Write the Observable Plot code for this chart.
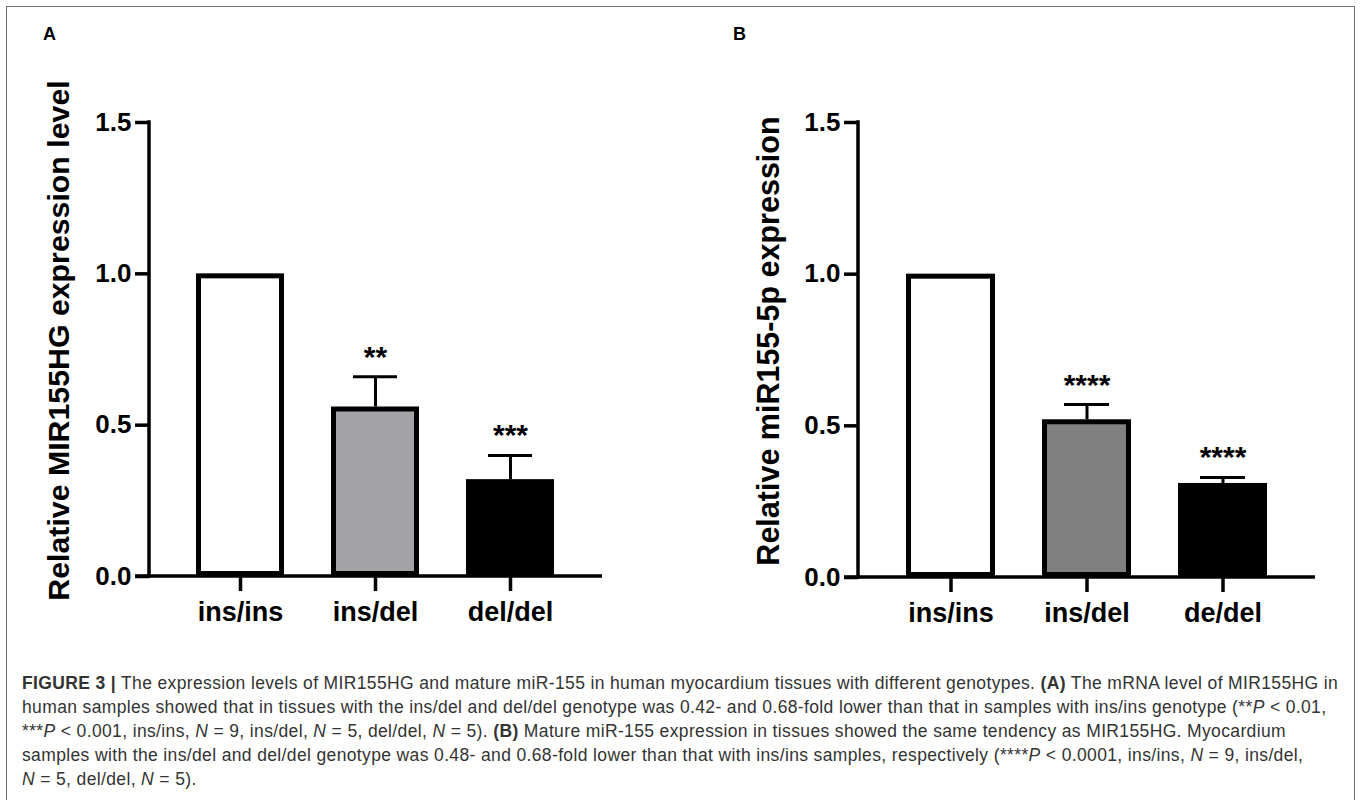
<!DOCTYPE html>
<html><head><meta charset="utf-8">
<script src="https://cdn.jsdelivr.net/npm/d3@7"></script>
<script src="https://cdn.jsdelivr.net/npm/@observablehq/plot@0.6"></script>
<style>
html,body{margin:0;padding:0;background:#fff;}
#page{position:relative;width:1360px;height:800px;overflow:hidden;background:#fff;}
#frame{position:absolute;left:6px;top:6px;width:1349px;height:900px;border:1.5px solid #707070;border-bottom:none;box-sizing:border-box;}
.panel{position:absolute;top:0;}
.plabel{position:absolute;top:23px;font:bold 18px "Liberation Sans",Arial,sans-serif;line-height:22px;color:#000;}
#caption{position:absolute;left:22px;top:671px;font-family:"Liberation Sans",Arial,sans-serif;font-size:17.5px;line-height:24px;color:#333;white-space:nowrap;}
#caption .line{display:table;}
</style></head>
<body>
<div id="page">
  <div id="frame"></div>
  <div class="plabel" style="left:43px">A</div>
  <div class="plabel" style="left:733px">B</div>
  <div id="panelA" class="panel" style="left:0px"></div>
  <div id="panelB" class="panel" style="left:680px"></div>
  <div id="caption">
    <div class="line"><b>FIGURE 3 |</b> The expression levels of MIR155HG and mature miR-155 in human myocardium tissues with different genotypes. <b>(A)</b> The mRNA level of MIR155HG in</div>
    <div class="line">human samples showed that in tissues with the ins/del and del/del genotype was 0.42- and 0.68-fold lower than that in samples with ins/ins genotype (**<i>P</i> &lt; 0.01,</div>
    <div class="line">***<i>P</i> &lt; 0.001, ins/ins, <i>N</i> = 9, ins/del, <i>N</i> = 5, del/del, <i>N</i> = 5). <b>(B)</b> Mature miR-155 expression in tissues showed the same tendency as MIR155HG. Myocardium</div>
    <div class="line">samples with the ins/del and del/del genotype was 0.48- and 0.68-fold lower than that with ins/ins samples, respectively (****<i>P</i> &lt; 0.0001, ins/ins, <i>N</i> = 9, ins/del,</div>
    <div class="line"><i>N</i> = 5, del/del, <i>N</i> = 5).</div>
  </div>
</div>
<script>
// ---- data ----
const genotypesA = ["ins/ins", "ins/del", "del/del"];
const meanA = [1.00, 0.56, 0.32];
const semA = [0, 0.10, 0.08];
const starsA = ["", "**", "***"];

const genotypesB = ["ins/ins", "ins/del", "de/del"];
const meanB = [1.00, 0.52, 0.31];
const semB = [0, 0.05, 0.02];
const starsB = ["", "****", "****"];

const yTicks = [0, 0.5, 1.0, 1.5];
const titleA = "Relative MIR155HG expression level";
const titleB = "Relative miR155-5p expression";

// ---- styles ----
const fillsA = ["#ffffff", "#a3a3a7", "#000000"];
const fillsB = ["#ffffff", "#808080", "#000000"];
const FONT = "'Liberation Sans', Arial, Helvetica, sans-serif";

function panel(o) {
  const rows = o.genotypes.map((g, i) => ({genotype: g, mean: o.means[i], sem: o.sems[i], top: o.means[i] + o.sems[i], stars: o.stars[i]}));
  const err = rows.filter(d => d.sem > 0);
  const axisLines = (index, scales, values, dim) => {
    const g = d3.create("svg:g").attr("stroke", "black").attr("stroke-width", 3.5).attr("fill", "none");
    const x0 = dim.marginLeft, x1 = dim.width - dim.marginRight;
    const y0 = scales.y(0), yTop = scales.y(1.5);
    g.append("line").attr("x1", x0).attr("x2", x0).attr("y1", yTop - 1.75).attr("y2", y0 + 1.75);
    g.append("line").attr("x1", x0 - 14).attr("x2", x1).attr("y1", y0).attr("y2", y0);
    return g.node();
  };
  return Plot.plot({
    width: 680, height: 650,
    marginTop: 122, marginBottom: o.marginBottom, marginLeft: o.marginLeft, marginRight: o.marginRight,
    style: {background: "transparent", color: "black", fontFamily: FONT, fontWeight: "bold", overflow: "visible"},
    x: {domain: o.genotypes, paddingInner: o.paddingInner, paddingOuter: o.paddingOuter, axis: null},
    y: {domain: [0, 1.5], axis: null},
    color: {domain: o.genotypes, range: o.fills},
    marks: [
      Plot.barY(rows, {x: "genotype", y: "mean", fill: "genotype", stroke: "black", strokeWidth: 5, inset: 2.5}),
      Plot.ruleX(err, {x: "genotype", y1: "mean", y2: "top", stroke: "black", strokeWidth: 3}),
      Plot.tickY(err, {x: "genotype", y: "top", stroke: "black", strokeWidth: 3, insetLeft: 22, insetRight: 22}),
      Plot.text(err, {x: "genotype", y: "top", text: "stars", lineAnchor: "bottom", dy: -10, fontSize: 30, fontWeight: "bold", fill: "black"}),
      axisLines,
      Plot.axisY({ticks: yTicks, tickFormat: d3.format(".1f"), tickSize: 14, tickPadding: 4, strokeWidth: 3.5, fontSize: 26, fontWeight: "bold", label: null}),
      Plot.axisX({tickSize: 15, tickPadding: 10, strokeWidth: 3.5, fontSize: 27, fontWeight: "bold", label: null}),
      Plot.text([o.title], {text: d => d, frameAnchor: "left", rotate: -90, textAnchor: "middle", lineAnchor: "middle", dx: o.labelDx, dy: -9, fontSize: o.titleSize, fontWeight: "bold", fill: "black"})
    ]
  });
}

document.getElementById("panelA").append(panel({
  genotypes: genotypesA, means: meanA, sems: semA, stars: starsA, title: titleA, fills: fillsA,
  marginLeft: 149, marginRight: 78, marginBottom: 74, paddingInner: 0.346, paddingOuter: 0.34, labelDx: -90, titleSize: 30.3
}));
document.getElementById("panelB").append(panel({
  genotypes: genotypesB, means: meanB, sems: semB, stars: starsB, title: titleB, fills: fillsB,
  marginLeft: 178, marginRight: 45, marginBottom: 73, paddingInner: 0.347, paddingOuter: 0.351, labelDx: -89, titleSize: 30.5
}));

// fit caption: widen letter spacing so line 1 spans like the reference
function fitCaption() {
  const cap = document.getElementById("caption");
  cap.style.letterSpacing = "0px";
  const first = cap.querySelector(".line");
  const w = first.getBoundingClientRect().width;
  const n = first.textContent.length;
  if (w > 0 && n > 0) {
    const ls = Math.max(-0.5, Math.min(1.5, (1316 - w) / n));
    cap.style.letterSpacing = ls.toFixed(3) + "px";
  }
}
fitCaption();
if (document.fonts && document.fonts.ready) document.fonts.ready.then(fitCaption);
</script>
</body></html>
